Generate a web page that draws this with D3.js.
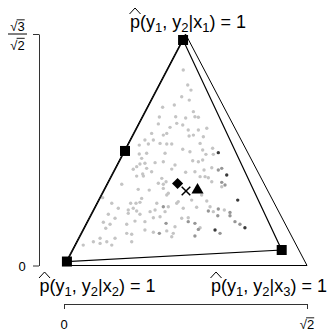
<!DOCTYPE html>
<html>
<head>
<meta charset="utf-8">
<script src="https://cdn.jsdelivr.net/npm/d3@7"></script>
<style>
  body { margin: 0; background: #fff; }
  svg { display: block; }
  text { font-family: "Liberation Sans", Arial, sans-serif; fill: #000; }
</style>
</head>
<body>
<svg id="chart"></svg>
<script>
const SQ2 = Math.SQRT2, H = Math.sqrt(1.5);

// simplex corners: x1 (top), x2 (bottom left), x3 (bottom right)
const corners = [[SQ2 / 2, H], [0, 0], [SQ2, 0]];
const cornerIdx = ["1", "2", "3"];

// channel rows (squares) and their hull
const channelPts = [[0.693, 1.193], [0.355, 0.606], [0.017, 0.021], [1.267, 0.082]];
const hullIdx = [0, 2, 3];

const diamondPt = [0.661, 0.434];
const crossPt = [0.710, 0.394];
const trianglePt = [0.777, 0.399];

// sampled output distributions: [x, y, shade]
const samples = [
  [0.694,1.034,0],[0.720,0.955,0],[0.739,0.928,0],[0.685,0.893,0],[0.729,0.875,0],[0.574,0.837,0],
  [0.642,0.849,0],[0.753,0.814,0],[0.555,0.786,0],[0.650,0.787,0],[0.762,0.787,0],[0.708,0.780,0],
  [0.782,0.784,0],[0.549,0.749,0],[0.617,0.731,0],[0.656,0.752,0],[0.691,0.743,0],[0.723,0.717,0],
  [0.782,0.717,0],[0.831,0.726,0],[0.510,0.699,0],[0.578,0.690,0],[0.598,0.699,0],[0.753,0.690,0],
  [0.811,0.681,0],[0.728,0.685,0],[0.471,0.664,0],[0.520,0.664,0],[0.559,0.646,0],[0.598,0.643,0],
  [0.627,0.643,0],[0.438,0.637,0],[0.491,0.643,0],[0.792,0.646,0],[0.691,0.615,0],[0.733,0.602,0],
  [0.807,0.611,0],[0.826,0.588,0],[0.865,0.620,0],[0.869,0.588,0],[0.898,0.597,2],[0.588,0.594,0],
  [0.438,0.590,0],[0.481,0.594,0],[0.452,0.567,0],[0.530,0.544,0],[0.578,0.549,0],[0.646,0.532,0],
  [0.749,0.554,0],[0.782,0.549,0],[0.807,0.558,0],[0.442,0.537,0],[0.471,0.541,0],[0.423,0.523,0],
  [0.481,0.514,0],[0.403,0.509,0],[0.510,0.496,0],[0.627,0.510,0],[0.708,0.493,0],[0.762,0.496,0],
  [0.815,0.505,0],[0.860,0.517,0],[0.898,0.505,1],[0.458,0.484,0],[0.918,0.514,1],
  [0.336,0.430,0],[0.423,0.473,0],[0.462,0.473,0],[0.496,0.399,0],[0.549,0.435,0],[0.578,0.430,0],
  [0.569,0.461,0],[0.594,0.443,0],[0.598,0.373,0],[0.607,0.382,0],[0.225,0.359,0],[0.278,0.329,0],
  [0.388,0.329,0],[0.419,0.329,0],[0.452,0.355,0],[0.442,0.334,0],[0.540,0.329,0],[0.578,0.311,1],
  [0.607,0.311,0],[0.656,0.329,0],[0.316,0.303,0],[0.374,0.294,0],[0.403,0.303,0],[0.423,0.288,0],
  [0.501,0.285,0],[0.530,0.294,0],[0.588,0.285,0],[0.258,0.271,0],[0.297,0.250,0],[0.374,0.276,0],
  [0.442,0.271,0],[0.520,0.253,0],[0.559,0.258,0],[0.229,0.229,0],[0.268,0.218,0],[0.365,0.218,0],
  [0.413,0.235,0],[0.471,0.232,0],[0.594,0.223,1],[0.646,0.205,0],[0.243,0.197,0],[0.471,0.188,0],
  [0.520,0.176,0],[0.555,0.170,1],[0.598,0.183,0],[0.636,0.170,0],[0.365,0.170,0],[0.394,0.165,0],
  [0.627,0.152,0],[0.210,0.144,0],[0.297,0.144,0],[0.112,0.108,0],[0.171,0.126,0],[0.210,0.117,0],
  [0.249,0.126,0],[0.278,0.108,0],[0.394,0.126,0],[0.432,0.403,0],[0.578,0.408,0],
  [0.792,0.470,0],[0.821,0.470,0],[0.840,0.464,0],[0.860,0.443,0],[0.918,0.440,1],[0.937,0.426,1],
  [0.918,0.417,0],[0.947,0.479,2],[0.801,0.373,0],[0.665,0.338,0],[0.831,0.341,0],[1.011,0.346,2],
  [0.694,0.303,0],[0.850,0.311,0],[0.840,0.288,1],[0.898,0.299,1],[0.933,0.294,0],[0.966,0.281,1],
  [0.869,0.285,0],[0.895,0.263,1],[0.966,0.263,1],[0.685,0.250,0],[0.723,0.253,0],[0.723,0.232,1],
  [0.762,0.223,1],[0.792,0.200,0],[0.782,0.191,1],[0.995,0.232,1],[1.024,0.218,1],[1.053,0.200,2],
  [0.879,0.188,2],[0.908,0.170,1],[0.762,0.156,1],[0.743,0.346,0],[0.772,0.308,0]
];
const shades = ["#c4c4c4", "#969696", "#3a3a3a"];

const width = 334, height = 335;
const svg = d3.select("#chart").attr("width", width).attr("height", height);

const x = d3.scaleLinear().domain([0, SQ2]).range([64, 307]);
const y = d3.scaleLinear().domain([0, H]).range([265.5, 34]);
const line = d3.line().x(d => x(d[0])).y(d => y(d[1]));

// axes
svg.append("g").attr("transform", "translate(39,0)")
  .call(d3.axisLeft(y).tickValues([0, H]).tickFormat("").tickSize(6).tickSizeOuter(0));
svg.append("g").attr("transform", "translate(0,304)")
  .call(d3.axisBottom(x).tickValues([0, SQ2]).tickFormat("").tickSize(5).tickSizeOuter(0));
svg.selectAll(".domain, .tick line").attr("stroke", "#333");

function sqrtText(g, cx, baseline, digit, size) {
  const t = g.append("text").attr("x", cx).attr("y", baseline)
    .attr("text-anchor", "middle").style("font-size", size + "px");
  t.append("tspan").text("\u221A");
  t.append("tspan").text(digit);
  const e = t.node().getExtentOfChar(1);
  const r = t.node().getExtentOfChar(0);
  g.append("line")
    .attr("x1", r.x + r.width - 0.8).attr("x2", e.x + e.width)
    .attr("y1", baseline - size * 0.86).attr("y2", baseline - size * 0.86)
    .attr("stroke", "#000").attr("stroke-width", 0.9);
  return t;
}

// y tick labels
svg.append("text").attr("x", 22).attr("y", y(0) + 5)
  .attr("text-anchor", "middle").style("font-size", "13px").text("0");
sqrtText(svg, 17.5, y(H) - 3, "3", 13);
svg.append("line").attr("x1", 8).attr("x2", 27).attr("y1", y(H)).attr("y2", y(H))
  .attr("stroke", "#000").attr("stroke-width", 1);
sqrtText(svg, 17.5, y(H) + 15.5, "2", 13);

// x tick labels
svg.append("text").attr("x", x(0)).attr("y", 329)
  .attr("text-anchor", "middle").style("font-size", "13px").text("0");
sqrtText(svg, x(SQ2), 329, "2", 13);

// outer simplex
svg.append("path").attr("d", line(corners) + "Z")
  .attr("fill", "none").attr("stroke", "#000").attr("stroke-width", 1);

// sampled points
svg.append("g").selectAll("circle").data(samples).join("circle")
  .attr("cx", d => x(d[0])).attr("cy", d => y(d[1])).attr("r", 1.7)
  .attr("fill", d => shades[d[2]]);

// channel hull
svg.append("path").attr("d", line(hullIdx.map(i => channelPts[i])) + "Z")
  .attr("fill", "none").attr("stroke", "#000").attr("stroke-width", 1.2);

svg.append("g").selectAll("rect").data(channelPts).join("rect")
  .attr("x", d => x(d[0]) - 5).attr("y", d => y(d[1]) - 5)
  .attr("width", 10).attr("height", 10).attr("fill", "#000");

// centre markers
svg.append("path")
  .attr("d", d3.symbol(d3.symbolSquare, 62)())
  .attr("transform", `translate(${x(diamondPt[0])},${y(diamondPt[1])}) rotate(45)`)
  .attr("fill", "#000");
svg.append("path")
  .attr("d", d3.symbol(d3.symbolTriangle, 64)())
  .attr("transform", `translate(${x(trianglePt[0])},${y(trianglePt[1])})`)
  .attr("fill", "#000");
const cxp = x(crossPt[0]), cyp = y(crossPt[1]), cs = 4.3;
svg.append("path")
  .attr("d", `M${cxp - cs},${cyp - cs}L${cxp + cs},${cyp + cs}M${cxp - cs},${cyp + cs}L${cxp + cs},${cyp - cs}`)
  .attr("stroke", "#000").attr("stroke-width", 1.5).attr("fill", "none");

// corner labels
function hatLabel(cx, baseline, idx) {
  const t = svg.append("text").attr("x", cx).attr("y", baseline)
    .attr("text-anchor", "middle").style("font-size", "18px");
  t.append("tspan").text("p(y");
  t.append("tspan").attr("dy", 4).style("font-size", "13px").text("1");
  t.append("tspan").attr("dy", -4).text(", y");
  t.append("tspan").attr("dy", 4).style("font-size", "13px").text("2");
  t.append("tspan").attr("dy", -4).text("|x");
  t.append("tspan").attr("dy", 4).style("font-size", "13px").text(idx);
  t.append("tspan").attr("dy", -4).text(") = 1");
  const e = t.node().getExtentOfChar(0);
  svg.append("path")
    .attr("d", `M${e.x - 0.5},${baseline - 13.5}L${e.x + e.width / 2},${baseline - 19.5}L${e.x + e.width + 0.5},${baseline - 13.5}`)
    .attr("fill", "none").attr("stroke", "#000").attr("stroke-width", 1);
}
hatLabel(188, 27.5, cornerIdx[0]);
hatLabel(97.5, 291.5, cornerIdx[1]);
hatLabel(269, 291.5, cornerIdx[2]);
</script>
</body>
</html>
